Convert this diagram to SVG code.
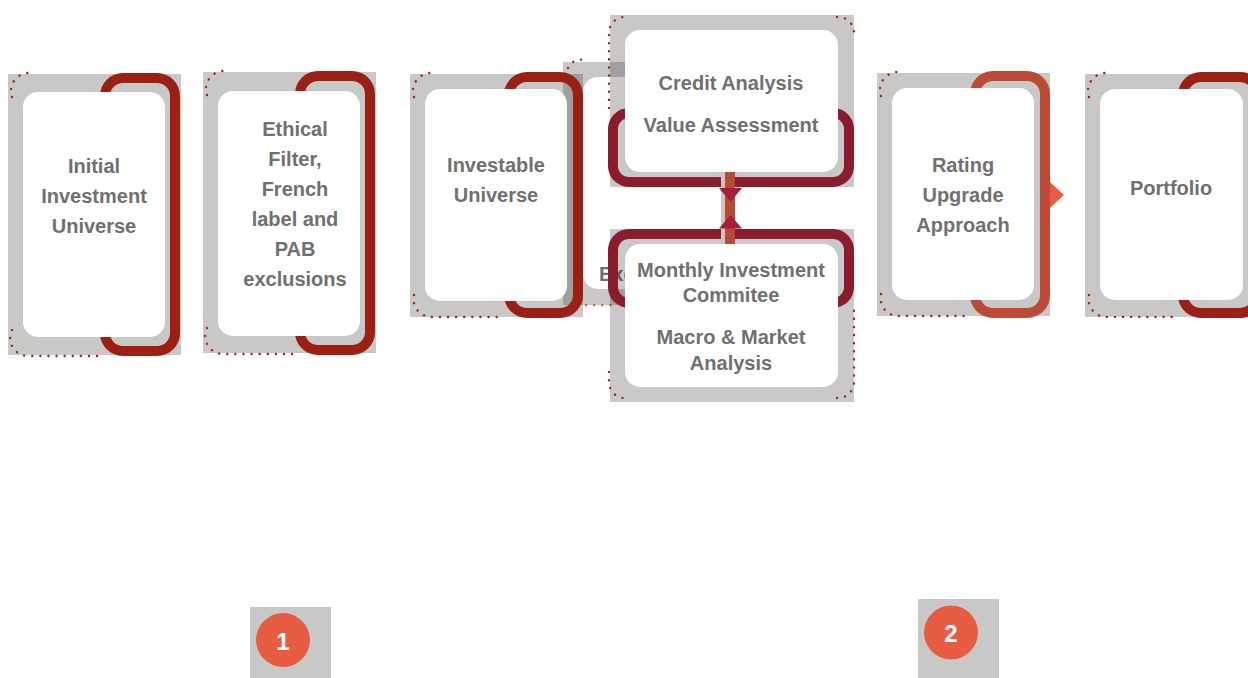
<svg xmlns="http://www.w3.org/2000/svg" width="1248" height="678" viewBox="0 0 1248 678">
<style>
.g{fill:#c8c8c6}
.gt{fill:#161616;fill-opacity:0.23}
.dk{fill:#9f9f9f}
.w{fill:#fff}
.br{fill:none;stroke-width:10}
.red{stroke:#9b2013}
.org{stroke:#bd4a37}
.crm{stroke:#8a1c2e}
.t{font-family:"Liberation Sans",Arial,sans-serif;font-weight:bold;font-size:20px;fill:#707070;text-anchor:middle}
.dots{fill:none;stroke:#a8221c;stroke-width:2.4;stroke-dasharray:0.1 8;stroke-linecap:round}
.dotso{fill:none;stroke:#e2563f;stroke-width:2.4;stroke-dasharray:0.1 8;stroke-linecap:round}
.badge{fill:#e95c44}
.bt{font-family:"Liberation Sans",Arial,sans-serif;font-weight:bold;font-size:24px;fill:#fff;text-anchor:middle}
</style>
<rect width="1248" height="678" fill="#fff"/>

<g id="node-hidden">
<rect class="g" x="563" y="62" width="80" height="243"/>
<rect class="w" x="583" y="77" width="80" height="212" rx="15"/>
<text class="t" x="599" y="281" style="text-anchor:start">Exc</text>
<path class="dots" d="M568,68 A14,14 0 0 1 584,60"/>
<path class="dotso" d="M586,305 H612"/>
</g>

<g id="node-initial">
<rect class="g" x="8" y="74" width="173" height="281"/>
<rect class="br red" x="105" y="78" width="70" height="273" rx="18"/>
<rect class="w" x="23" y="92" width="142" height="245" rx="15"/>
<text class="t" x="94" y="173">Initial</text>
<text class="t" x="94" y="203">Investment</text>
<text class="t" x="94" y="233">Universe</text>
<path class="dots" d="M12,97 A18,18 0 0 1 28,73 M12,330 A18,18 0 0 0 28,356 H100"/>
</g>

<g id="node-ethical">
<rect class="g" x="203" y="72" width="173" height="281"/>
<rect class="br red" x="300" y="76" width="70" height="274" rx="18"/>
<rect class="w" x="218" y="91" width="142" height="245" rx="15"/>
<text class="t" x="295" y="136">Ethical</text>
<text class="t" x="295" y="166">Filter,</text>
<text class="t" x="295" y="196">French</text>
<text class="t" x="295" y="226">label and</text>
<text class="t" x="295" y="256">PAB</text>
<text class="t" x="295" y="286">exclusions</text>
<path class="dots" d="M207,95 A18,18 0 0 1 223,71 M207,328 A18,18 0 0 0 223,354 H295"/>
</g>

<g id="node-investable">
<rect class="g" x="410" y="74" width="173" height="243"/>
<rect class="dk" x="563" y="74" width="20" height="231"/>
<rect class="br red" x="509" y="77" width="69" height="236" rx="18"/>
<rect class="w" x="425" y="89" width="142" height="212" rx="15"/>
<text class="t" x="496" y="172">Investable</text>
<text class="t" x="496" y="202">Universe</text>
<path class="dots" d="M414,97 A18,18 0 0 1 430,73 M414,295 A18,18 0 0 0 430,317 H504"/>
</g>

<g id="node-credit">
<rect class="g" x="610" y="15" width="244" height="172"/>
<rect class="dk" x="610" y="62" width="15" height="15"/>
<rect class="br crm" x="613" y="113" width="236" height="69" rx="16"/>
<rect class="w" x="625" y="30" width="213" height="142" rx="15"/>
<text class="t" x="731" y="90">Credit Analysis</text>
<text class="t" x="731" y="132">Value Assessment</text>
<path class="dots" d="M609,108 V34 A16,16 0 0 1 627,17 M837,17 A16,16 0 0 1 854,32"/>
</g>

<g id="node-monthly">
<rect class="gt" x="610" y="229" width="244" height="173"/>
<rect class="br crm" x="613" y="234" width="236" height="69" rx="16"/>
<rect class="w" x="625" y="244" width="213" height="143" rx="15"/>
<text class="t" x="731" y="277">Monthly Investment</text>
<text class="t" x="731" y="302">Commitee</text>
<text class="t" x="731" y="344">Macro &amp; Market</text>
<text class="t" x="731" y="370">Analysis</text>
<path class="dots" d="M609,372 V382 A16,16 0 0 0 627,398 M837,398 A16,16 0 0 0 854,382 V310"/>
</g>

<g id="node-rating">
<rect class="g" x="877" y="73" width="173" height="243"/>
<rect class="br org" x="975" y="76" width="70" height="237" rx="18"/>
<rect class="w" x="892" y="88" width="142" height="212" rx="15"/>
<text class="t" x="963" y="172">Rating</text>
<text class="t" x="963" y="202">Upgrade</text>
<text class="t" x="963" y="232">Approach</text>
<path class="dots" d="M881,96 A18,18 0 0 1 897,72 M881,294 A18,18 0 0 0 897,316 H970"/>
</g>

<g id="node-portfolio">
<rect class="g" x="1085" y="74" width="163" height="243"/>
<rect class="br red" x="1183" y="77" width="75" height="236" rx="18"/>
<rect class="w" x="1100" y="89" width="143" height="211" rx="15"/>
<text class="t" x="1171" y="195">Portfolio</text>
<path class="dots" d="M1089,97 A18,18 0 0 1 1105,73 M1089,295 A18,18 0 0 0 1105,317 H1178"/>
</g>

<g id="connectors">
<rect x="721" y="172" width="4" height="72" fill="#c8c8c6"/>
<rect x="725" y="172" width="10" height="72" fill="#b84a36"/>
<polygon points="719,188 742,188 730.5,202" fill="#a81c38"/>
<polygon points="719,228.5 742,228.5 730.5,215" fill="#a81c38"/>
<polygon points="1050,182 1064,195 1050,208" fill="#e95c44"/>
</g>

<g id="badge-1">
<rect class="g" x="250" y="607" width="81" height="71"/>
<circle class="badge" cx="283" cy="640" r="27"/>
<text class="bt" x="283" y="650">1</text>
</g>
<g id="badge-2">
<rect class="g" x="918" y="599" width="81" height="79"/>
<circle class="badge" cx="951" cy="632.5" r="27"/>
<text class="bt" x="951" y="642">2</text>
</g>
</svg>
